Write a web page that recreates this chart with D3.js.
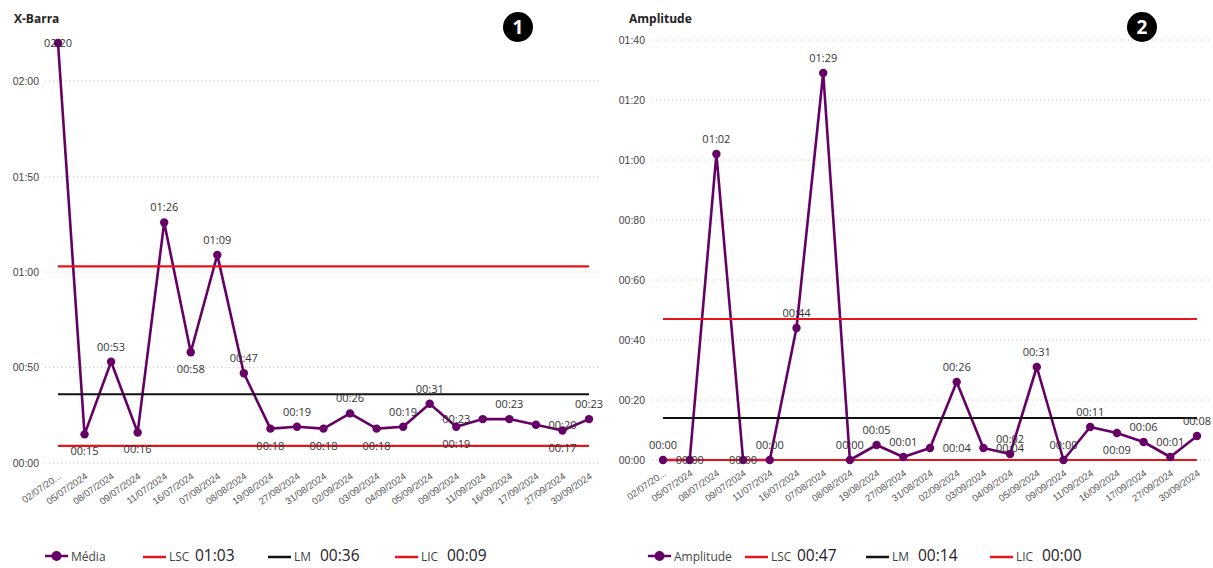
<!DOCTYPE html>
<html><head><meta charset="utf-8">
<script src="https://cdn.jsdelivr.net/npm/d3@7"></script>
<style>
body{margin:0;background:#fff;}
svg{display:block;font-family:"Segoe UI","Open Sans","Noto Sans",sans-serif;}
</style></head>
<body>
<svg id="chart" width="1213" height="568"></svg>
<script>
const categories = ["02/07/20...","05/07/2024","08/07/2024","09/07/2024","11/07/2024","16/07/2024","07/08/2024","08/08/2024","19/08/2024","27/08/2024","31/08/2024","02/09/2024","03/09/2024","04/09/2024","05/09/2024","09/09/2024","11/09/2024","16/09/2024","17/09/2024","27/09/2024","30/09/2024"];
// X-Barra (Média) values, read in the chart's own "mm:ss"-like decimal units
const mediaValues = [2.20,0.15,0.53,0.16,1.26,0.58,1.09,0.47,0.18,0.19,0.18,0.26,0.18,0.19,0.31,0.19,0.23,0.23,0.20,0.17,0.23];
const mediaLimits = {LSC:1.03, LM:0.36, LIC:0.09};
const mediaTicks = [0,0.5,1.0,1.5,2.0];
// Amplitude values
const ampValues = [0.00,0.00,1.02,0.00,0.00,0.44,1.29,0.00,0.05,0.01,0.04,0.26,0.04,0.02,0.31,0.00,0.11,0.09,0.06,0.01,0.08];
const ampLimits = {LSC:0.47, LM:0.14, LIC:0.00};
const ampTicks = [0,0.2,0.4,0.6,0.8,1.0,1.2,1.4];
// data-label placement (a=above, b=below, c=centre, l=left, r=right)
const mediaLabelPos = ["c","b","a","b","a","b","a","a","b","a","b","a","b","a","a","b","l","a","r","b","a"];
const ampLabelPos   = ["a","c","a","c","a","a","a","a","a","a","r","a","r","a","a","a","a","b","a","a","a"];

const fmt = v => { const t = Math.round(v*100); const h = Math.floor(t/100), m = t%100; return String(h).padStart(2,"0")+":"+String(m).padStart(2,"0"); };

const svg = d3.select("#chart");
const PURPLE = "#660066", RED = "#e8141b", BLACK = "#111";

function drawChart(o){
  const g = svg.append("g");
  const x = d3.scalePoint().domain(categories).range([o.x0, o.x1]);
  const y = d3.scaleLinear().domain(o.ydom).range([o.yBottom, o.yTop]);

  // title
  g.append("text").attr("x", o.titleX).attr("y", 23).attr("font-size", 12).attr("font-weight", 700).attr("fill","#222").text(o.title);

  // grid + y labels
  const yAxis = d3.axisLeft(y).tickValues(o.ticks).tickFormat(fmt).tickSize(0);
  const ya = g.append("g").attr("transform", `translate(${o.labelRight},0)`).call(yAxis);
  ya.select(".domain").remove();
  ya.selectAll("text").attr("font-size", 10.5).attr("fill","#444").attr("font-family","inherit").attr("x",0);
  g.append("g").selectAll("line").data(o.ticks).join("line")
    .attr("x1", o.gx0).attr("x2", o.gx1).attr("y1", d=>y(d)).attr("y2", d=>y(d))
    .attr("stroke","#c8c8c8").attr("stroke-width",1).attr("stroke-dasharray","1,3");

  // x labels
  const xAxis = d3.axisBottom(x).tickSize(0);
  const xa = g.append("g").attr("transform", `translate(0,${o.yBottom+6})`).call(xAxis);
  xa.select(".domain").remove();
  xa.selectAll("text").attr("font-size", 9.5).attr("fill","#555").attr("font-family","inherit")
    .attr("text-anchor","end").attr("dy","0.6em").attr("y",0).attr("x",0)
    .attr("transform","translate(0,4) rotate(-35)");

  // series line
  const line = d3.line().x((d,i)=>x(categories[i])).y(d=>y(d));
  g.append("path").datum(o.values).attr("d", line).attr("fill","none")
    .attr("stroke", PURPLE).attr("stroke-width", 2.6).attr("stroke-linejoin","round");

  // control lines
  const lims = [["LSC",RED],["LM",BLACK],["LIC",RED]];
  g.append("g").selectAll("line").data(lims).join("line")
    .attr("x1", x(categories[0])).attr("x2", x(categories[categories.length-1]))
    .attr("y1", d=>y(o.limits[d[0]])).attr("y2", d=>y(o.limits[d[0]]))
    .attr("stroke", d=>d[1]).attr("stroke-width", 2.2);

  // markers
  g.append("g").selectAll("circle").data(o.values).join("circle")
    .attr("cx",(d,i)=>x(categories[i])).attr("cy", d=>y(d)).attr("r",4.2).attr("fill",PURPLE);

  // data labels
  const step = x.step();
  g.append("g").selectAll("text").data(o.values).join("text")
    .attr("font-size", 11).attr("fill","#333").attr("text-anchor","middle")
    .attr("x",(d,i)=>{ const p=o.pos[i]; return x(categories[i]) + (p==="l"?-step:p==="r"?step:0); })
    .attr("y",(d,i)=>{ const p=o.pos[i]; const yy=y(d); return p==="a"?yy-11:p==="b"?yy+21:yy+4; })
    .text(d=>fmt(d));

  // legend
  const ly = 556;
  const lg = g.append("g");
  lg.append("line").attr("x1",o.legX).attr("x2",o.legX+23).attr("y1",ly).attr("y2",ly).attr("stroke",PURPLE).attr("stroke-width",2.5);
  lg.append("circle").attr("cx",o.legX+11.5).attr("cy",ly).attr("r",5).attr("fill",PURPLE);
  lg.append("text").attr("x",o.legX+26).attr("y",ly+4.5).attr("font-size",12).attr("fill","#444").text(o.seriesName);
  lims.forEach((l,i)=>{
    const lx = o.legItems[i];
    lg.append("line").attr("x1",lx).attr("x2",lx+23).attr("y1",ly+1).attr("y2",ly+1).attr("stroke",l[1]).attr("stroke-width",2.5);
    lg.append("text").attr("x",lx+26).attr("y",ly+5).attr("font-size",12).attr("fill","#444").text(l[0]);
    lg.append("text").attr("x",lx+52).attr("y",ly+5).attr("font-size",15.5).attr("fill","#222").text(fmt(o.limits[l[0]]));
  });

  // badge
  g.append("circle").attr("cx",o.badgeX).attr("cy",27).attr("r",15).attr("fill","#000");
  g.append("text").attr("x",o.badgeX).attr("y",34).attr("text-anchor","middle").attr("font-size",19).attr("font-weight",700).attr("fill","#fff").text(o.badge);
}

drawChart({title:"X-Barra", titleX:14, values:mediaValues, limits:mediaLimits, ticks:mediaTicks,
  ydom:[0,2.2], yBottom:463, yTop:43, x0:58, x1:589, gx0:45, gx1:598, labelRight:39,
  pos:mediaLabelPos, seriesName:"Média", legX:45, legItems:[143,268,395], badge:"1", badgeX:518});
drawChart({title:"Amplitude", titleX:629, values:ampValues, limits:ampLimits, ticks:ampTicks,
  ydom:[0,1.4], yBottom:460, yTop:40, x0:663, x1:1197, gx0:652, gx1:1210, labelRight:645,
  pos:ampLabelPos, seriesName:"Amplitude", legX:648, legItems:[745,866,990], badge:"2", badgeX:1142});
</script>
</body></html>
